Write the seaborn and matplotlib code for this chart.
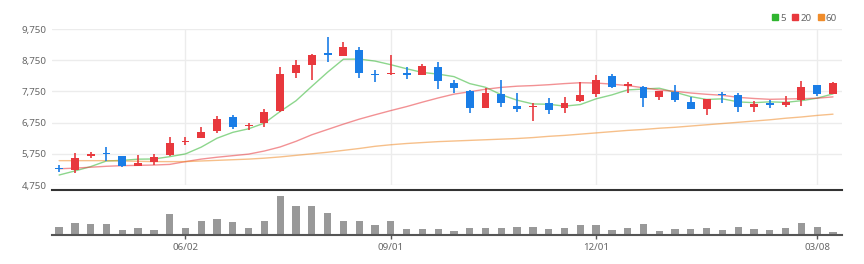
import numpy as np
import pandas as pd
import matplotlib
matplotlib.use("Agg")
import matplotlib.pyplot as plt
import seaborn as sns
from matplotlib.lines import Line2D
from matplotlib.ticker import FuncFormatter

# ---- data (weekly candles) ----
opens = [5290, 5230, 5690, 5750, 5670, 5370, 5490, 5710, 6130, 6270,
         6490, 6920, 6630, 6730, 7120, 8340, 8610, 8960, 8890, 9080,
         8300, 8300, 8310, 8290, 8530, 8010, 7770, 7230, 7670, 7290,
         7250, 7390, 7230, 7440, 7660, 8230, 7930, 7890, 7580, 7740,
         7420, 7200, 7650, 7640, 7260, 7390, 7320, 7460, 7940, 7660]
highs = [5390, 5770, 5820, 5980, 5690, 5710, 5750, 6300, 6300, 6620,
         6960, 6990, 6730, 7180, 8520, 8760, 8960, 9490, 9330, 9170,
         8420, 8910, 8530, 8630, 8680, 8120, 7800, 7850, 8120, 7700,
         7390, 7530, 7580, 8050, 8290, 8310, 8050, 7910, 7770, 7960,
         7580, 7520, 7720, 7690, 7450, 7460, 7610, 8080, 7960, 8040]
lows = [5160, 5150, 5610, 5530, 5340, 5350, 5400, 5690, 6030, 6250,
        6410, 6560, 6520, 6620, 7100, 8170, 8120, 8690, 8870, 8170,
        8050, 8280, 8160, 8270, 7830, 7690, 7050, 7230, 7260, 7100,
        6810, 7030, 7070, 7410, 7580, 7860, 7710, 7260, 7480, 7420,
        7180, 7000, 7370, 7080, 7080, 7210, 7260, 7290, 7610, 7660]
closes = [5260, 5630, 5720, 5730, 5360, 5450, 5660, 6090, 6170, 6450,
          6880, 6600, 6660, 7080, 8320, 8590, 8910, 8930, 9160, 8340,
          8270, 8330, 8280, 8570, 8070, 7870, 7210, 7690, 7370, 7200,
          7270, 7160, 7390, 7620, 8120, 7900, 7960, 7530, 7750, 7480,
          7190, 7510, 7630, 7260, 7350, 7330, 7420, 7900, 7670, 8030]
ma5 = [5070, 5200, 5340, 5520, 5540, 5578, 5584, 5658, 5746, 5964,
       6250, 6438, 6552, 6734, 7108, 7450, 7912, 8366, 8782, 8786,
       8722, 8606, 8476, 8358, 8304, 8224, 8000, 7882, 7642, 7468,
       7348, 7338, 7278, 7328, 7512, 7638, 7798, 7826, 7852, 7724,
       7582, 7492, 7512, 7414, 7388, 7416, 7398, 7452, 7534, 7670]
ma20 = [5270, 5290, 5320, 5350, 5370, 5380, 5390, 5410, 5500, 5580,
        5640, 5690, 5740, 5840, 5970, 6150, 6360, 6530, 6700, 6860,
        7000, 7135, 7263, 7405, 7540, 7662, 7739, 7819, 7879, 7917,
        7936, 7964, 8000, 8028, 8018, 7983, 7936, 7866, 7795, 7752,
        7698, 7657, 7625, 7559, 7523, 7496, 7507, 7517, 7532, 7574]
ma60 = [5530, 5530, 5530, 5530, 5520, 5510, 5500, 5500, 5500, 5520,
        5540, 5560, 5580, 5610, 5650, 5700, 5750, 5800, 5860, 5920,
        5990, 6040, 6080, 6110, 6140, 6160, 6180, 6200, 6220, 6240,
        6270, 6310, 6340, 6380, 6420, 6460, 6500, 6530, 6570, 6600,
        6640, 6680, 6720, 6760, 6800, 6840, 6890, 6930, 6980, 7020]
volume = [7.7, 11.7, 11, 11, 5.3, 7.3, 4.7, 21, 7, 13.7,
          15.7, 12.7, 7, 13.7, 39.3, 29.3, 29.3, 21.7, 13.7, 14.3,
          9.7, 13.7, 6.3, 6.3, 6.3, 4.3, 6.7, 7.3, 6.7, 7.7,
          7.7, 6, 6.7, 9.7, 10.3, 5.3, 6.7, 11, 3.7, 6,
          6, 6.7, 5.3, 7.7, 6, 5, 7.3, 12.3, 8.3, 3]
tick_index = [8, 21, 34, 48]
tick_labels = ["06/02", "09/01", "12/01", "03/08"]
price_ticks = [4750, 5750, 6750, 7750, 8750, 9750]
ma_names = ["5", "20", "60"]

UP = "#e8383d"
DOWN = "#1a7de6"
MA_COLORS = ["#2fb52f", "#e8383d", "#f08c2a"]

sns.set_theme(style="white")
plt.rcParams["font.family"] = ["Noto Sans", "DejaVu Sans"]

idx = np.arange(len(closes))
df = pd.DataFrame({"i": idx, "open": opens, "high": highs, "low": lows,
                   "close": closes, "ma5": ma5, "ma20": ma20, "ma60": ma60,
                   "volume": volume})

W, H = 864, 264
fig = plt.figure(figsize=(W / 100, H / 100), dpi=100)
ax = fig.add_axes([52 / W, 1 - 185 / H, 790 / W, 156 / H])
axv = fig.add_axes([52 / W, 1 - 235 / H, 790 / W, 45 / H], sharex=ax)

# moving averages
for col, c in zip(["ma5", "ma20", "ma60"], MA_COLORS):
    sns.lineplot(data=df, x="i", y=col, ax=ax, color=c, lw=1.0, alpha=0.55, zorder=2)

# candles
up = df["close"] >= df["open"]
colors = np.where(up, UP, DOWN)
bottoms = np.minimum(df["open"], df["close"])
heights = np.maximum(np.abs(df["close"] - df["open"]), 45)
ax.vlines(df["i"], df["low"], df["high"], colors=colors, lw=1.2, zorder=3)
ax.bar(df["i"], heights, bottom=bottoms, width=0.5, color=colors, linewidth=0, zorder=4)

ax.set_ylim(4750, 9750)
ax.set_xlim(-0.45, 49.57)
ax.set_yticks(price_ticks)
ax.yaxis.set_major_formatter(FuncFormatter(lambda v, p: f"{v:,.0f}"))
ax.grid(True, color="#ececec", lw=1)
ax.set_axisbelow(True)
for s in ax.spines.values():
    s.set_visible(False)
ax.tick_params(axis="y", length=0, labelsize=7, labelcolor="#666666", pad=4)
ax.tick_params(axis="x", length=0, labelbottom=False)
ax.set_xlabel("")
ax.set_ylabel("")

# volume
sns.barplot(data=df, x="i", y="volume", ax=axv, native_scale=True,
            color="#999999", width=0.46, linewidth=0, saturation=1)
axv.set_ylim(0, 45)
axv.set_xlim(-0.45, 49.57)
axv.set_yticks([])
axv.set_xticks(tick_index)
axv.set_xticklabels(tick_labels)
axv.tick_params(axis="x", length=3, width=1, color="#555555", labelsize=7,
                labelcolor="#666666", pad=3, bottom=True)
for s in ["left", "right"]:
    axv.spines[s].set_visible(False)
axv.spines["top"].set_color("#333333")
axv.spines["top"].set_linewidth(1.5)
axv.spines["bottom"].set_color("#555555")
axv.spines["bottom"].set_linewidth(1.5)
axv.set_xlabel("")
axv.set_ylabel("")
axv.grid(False)

handles = [Line2D([], [], marker="s", ls="", color=c, markersize=5) for c in MA_COLORS]
fig.legend(handles, ma_names, loc="upper right", bbox_to_anchor=(842 / W, 1 - 9 / H),
           ncol=3, frameon=False, fontsize=7, handletextpad=0.1, columnspacing=0.6,
           borderpad=0, handlelength=0.8, labelcolor="#666666")

fig.savefig("out.png", dpi=100)
